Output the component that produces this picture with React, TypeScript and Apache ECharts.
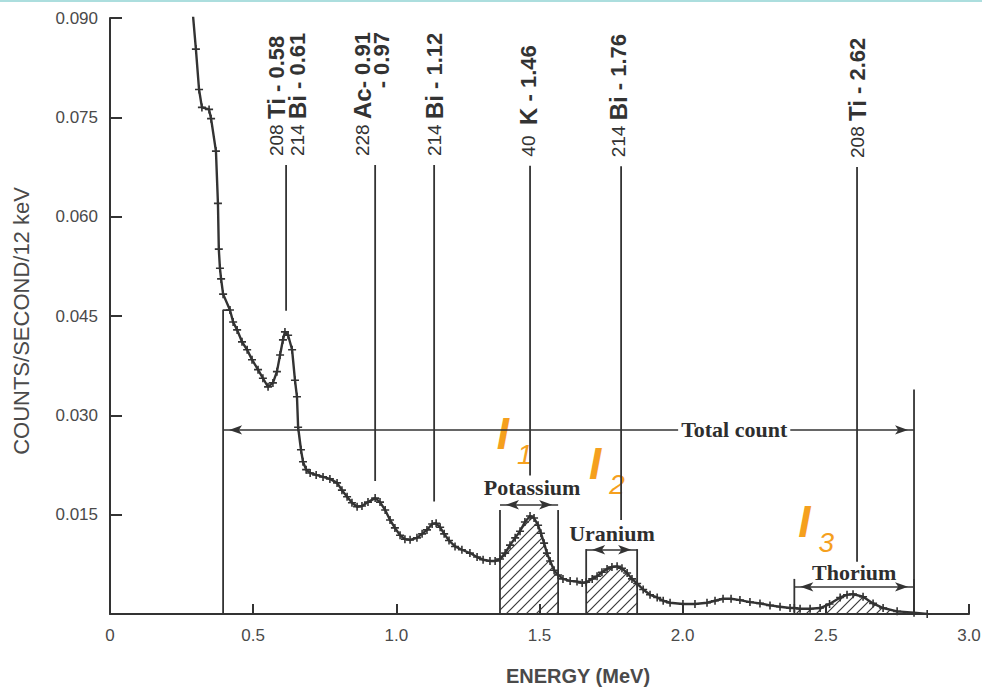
import React, { useEffect, useRef } from "react";
import * as echarts from "echarts";

// ---- Spectrum (energy in MeV, counts / second / 12 keV) ----
const energy = [
  0.290, 0.300, 0.311, 0.321, 0.346, 0.353, 0.370, 0.377, 0.380, 0.384,
  0.388, 0.395, 0.419, 0.430, 0.444, 0.461, 0.479, 0.496, 0.517, 0.534,
  0.552, 0.569, 0.583, 0.594, 0.604, 0.611, 0.622, 0.636, 0.646, 0.653,
  0.657, 0.667, 0.674, 0.685, 0.699, 0.720, 0.744, 0.768, 0.793, 0.810,
  0.828, 0.845, 0.863, 0.880, 0.901, 0.926, 0.943, 0.961, 0.978, 0.995,
  1.013, 1.030, 1.048, 1.072, 1.090, 1.107, 1.125, 1.139, 1.153, 1.167,
  1.184, 1.205, 1.229, 1.257, 1.282, 1.303, 1.327, 1.345, 1.362, 1.380,
  1.397, 1.415, 1.432, 1.449, 1.467, 1.481, 1.495, 1.505, 1.516, 1.526,
  1.537, 1.551, 1.565, 1.582, 1.607, 1.631, 1.649, 1.663, 1.684, 1.701,
  1.718, 1.736, 1.753, 1.771, 1.788, 1.806, 1.823, 1.841, 1.862, 1.886,
  1.911, 1.932, 1.956, 2.001, 2.043, 2.085, 2.113, 2.141, 2.169, 2.200,
  2.235, 2.270, 2.305, 2.340, 2.375, 2.390, 2.410, 2.445, 2.480, 2.513,
  2.550, 2.574, 2.595, 2.630, 2.665, 2.700, 2.749, 2.808, 2.854,
];
const counts = [
  0.0903, 0.0853, 0.0792, 0.0765, 0.0762, 0.0748, 0.0699, 0.0620, 0.0551, 0.0522,
  0.0506, 0.0483, 0.0459, 0.0441, 0.0429, 0.0411, 0.0399, 0.0384, 0.0369, 0.0356,
  0.0343, 0.0349, 0.0366, 0.0391, 0.0414, 0.0426, 0.0421, 0.0399, 0.0353, 0.0328,
  0.0282, 0.0248, 0.0230, 0.0218, 0.0213, 0.0210, 0.0207, 0.0204, 0.0198, 0.0187,
  0.0177, 0.0168, 0.0162, 0.0163, 0.0169, 0.0175, 0.0169, 0.0157, 0.0142, 0.0130,
  0.0119, 0.0113, 0.0112, 0.0115, 0.0121, 0.0127, 0.0136, 0.0137, 0.0131, 0.0121,
  0.0111, 0.0102, 0.0097, 0.0092, 0.0086, 0.0082, 0.0080, 0.0080, 0.0083, 0.0092,
  0.0104, 0.0115, 0.0125, 0.0139, 0.0148, 0.0145, 0.0134, 0.0122, 0.0107, 0.0092,
  0.0080, 0.0066, 0.0059, 0.0053, 0.0050, 0.0049, 0.0047, 0.0048, 0.0053, 0.0057,
  0.0063, 0.0068, 0.0071, 0.0072, 0.0069, 0.0062, 0.0053, 0.0046, 0.0037, 0.0029,
  0.0025, 0.0020, 0.0017, 0.0015, 0.0015, 0.0017, 0.0020, 0.0023, 0.0023, 0.0021,
  0.0018, 0.0016, 0.0013, 0.0011, 0.0009, 0.0009, 0.0008, 0.0008, 0.0009, 0.0015,
  0.0025, 0.0029, 0.0030, 0.0026, 0.0016, 0.0009, 0.0004, 0.0002, 0.0000,
];

// ---- Axes ----
const xTickLabels = ["0", "0.5", "1.0", "1.5", "2.0", "2.5", "3.0"];
const yTickLabels = ["", "0.015", "0.030", "0.045", "0.060", "0.075", "0.090"];

// ---- Peak identification lines ----
const peakEnergy = [0.615, 0.926, 1.132, 1.467, 1.785, 2.609];
const peakLineTop = [0.0678, 0.0678, 0.0678, 0.0677, 0.0676, 0.0675];
const peakLineBottom = [0.0458, 0.0201, 0.0170, 0.0209, 0.0142, 0.0079];
const peakLabels = [
  ["208 Ti - 0.58", "214 Bi - 0.61"],
  ["228 Ac- 0.91", "- 0.97"],
  ["214 Bi - 1.12"],
  ["40  K - 1.46"],
  ["214 Bi - 1.76"],
  ["208 Ti - 2.62"],
];

// ---- Energy windows ----
const windowNames = ["Potassium", "Uranium", "Thorium"];
const windowLo = [1.362, 1.663, 2.390];
const windowHi = [1.565, 1.841, 2.808];
const windowLineTop = [0.0157, 0.0098, 0.0053];
const windowArrowLevel = [0.0165, 0.0097, 0.0041];
const windowLabelEnergy = [1.474, 1.753, 2.599];
const windowLabelLevel = [0.0191, 0.0122, 0.0063];

// ---- Total count window ----
const totalLo = 0.395;
const totalHi = 2.808;
const totalLeftTop = 0.0459;
const totalLeftJoin = 0.419;
const totalRightTop = 0.0339;
const totalArrowLevel = 0.0278;
const totalLabelEnergy = 2.18;

// ---- Intensity markers I1, I2, I3 ----
const intensitySubs = ["1", "2", "3"];
const intensityEnergy = [1.372, 1.694, 2.425];
const intensityLevel = [0.0273, 0.0228, 0.0139];

const INK = "#333333";
const GRAY = "#4a4a4a";
const ORANGE = "#f5a01e";
const SANS = "'Liberation Sans', Arial, sans-serif";
const SERIF = "'Liberation Serif', 'Times New Roman', serif";
const PLUS =
  "path://M0.4,0H0.6V0.4H1V0.6H0.6V1H0.4V0.6H0V0.4H0.4Z";

function makeHatch() {
  const s = 10;
  const c = document.createElement("canvas");
  c.width = s;
  c.height = s;
  const ctx = c.getContext("2d")!;
  ctx.strokeStyle = "#3a3a3a";
  ctx.lineWidth = 1.2;
  ctx.beginPath();
  ctx.moveTo(-1, s + 1);
  ctx.lineTo(s + 1, -1);
  ctx.moveTo(-1, 1);
  ctx.lineTo(1, -1);
  ctx.moveTo(s - 1, s + 1);
  ctx.lineTo(s + 1, s - 1);
  ctx.stroke();
  return c;
}

function seg(points: number[][], width = 1.8) {
  return {
    type: "line",
    data: points,
    symbol: "none",
    silent: true,
    z: 3,
    lineStyle: { color: INK, width },
  };
}

export default function App() {
  const ref = useRef<HTMLDivElement>(null);

  useEffect(() => {
    const el = ref.current!;
    const chart = echarts.init(el, null, { renderer: "svg", width: 982, height: 689 });
    const curve = energy.map((e, i) => [e, counts[i]]);
    const hatch = makeHatch();

    const series: any[] = [];
    windowLo.forEach((lo, k) => {
      series.push({
        type: "line",
        data: curve.filter((p) => p[0] >= lo - 1e-9 && p[0] <= windowHi[k] + 1e-9),
        symbol: "none",
        silent: true,
        z: 1,
        lineStyle: { width: 0, opacity: 0 },
        areaStyle: { color: { image: hatch, repeat: "repeat" }, opacity: 1 },
      });
      series.push(seg([[lo, 0], [lo, windowLineTop[k]]]));
      series.push(seg([[windowHi[k], 0], [windowHi[k], windowLineTop[k]]]));
    });
    peakEnergy.forEach((e, i) => {
      series.push(seg([[e, peakLineBottom[i]], [e, peakLineTop[i]]]));
    });
    series.push(seg([[totalLeftJoin, totalLeftTop], [totalLo, totalLeftTop], [totalLo, 0]]));
    series.push(seg([[totalHi, 0], [totalHi, totalRightTop]]));

    const arrows = [
      [[totalLo, totalArrowLevel], [totalHi, totalArrowLevel]],
      ...windowLo.map((lo, k) => [[lo, windowArrowLevel[k]], [windowHi[k], windowArrowLevel[k]]]),
    ];

    series.push({
      type: "line",
      data: curve,
      symbol: PLUS,
      symbolSize: 8,
      showAllSymbol: true,
      z: 5,
      lineStyle: { color: INK, width: 2.4 },
      itemStyle: { color: INK },
      markLine: {
        silent: true,
        symbol: ["arrow", "arrow"],
        symbolSize: [7, 13],
        symbolOffset: [[0, 6], [0, 6]],
        label: { show: false },
        lineStyle: { color: INK, width: 1.5, type: "solid" },
        emphasis: { disabled: true },
        data: arrows.map((a) => [{ coord: a[0] }, { coord: a[1] }]),
      },
    });

    chart.setOption({
      animation: false,
      backgroundColor: "#ffffff",
      grid: { left: 110, right: 13, top: 18, bottom: 75, outerBoundsMode: "none" },
      xAxis: {
        type: "value",
        min: 0,
        max: 3,
        interval: 0.5,
        splitLine: { show: false },
        axisLine: { lineStyle: { color: INK, width: 2 } },
        axisTick: { inside: true, length: 10, lineStyle: { color: INK, width: 2 } },
        axisLabel: {
          margin: 13,
          color: GRAY,
          fontFamily: SANS,
          fontSize: 17,
          formatter: (v: number) => xTickLabels[Math.round(v / 0.5)] ?? "",
        },
      },
      yAxis: {
        type: "value",
        min: 0,
        max: 0.09,
        interval: 0.015,
        splitLine: { show: false },
        axisLine: { show: true, lineStyle: { color: INK, width: 2 } },
        axisTick: { show: true, inside: true, length: 12, lineStyle: { color: INK, width: 2 } },
        axisLabel: {
          margin: 12,
          color: GRAY,
          fontFamily: SANS,
          fontSize: 17,
          formatter: (v: number) => yTickLabels[Math.round(v / 0.015)] ?? "",
        },
      },
      series,
    });

    const px = (e: number, v: number) =>
      chart.convertToPixel({ gridIndex: 0 }, [e, v]) as number[];

    const graphics: any[] = [
      { type: "rect", shape: { x: 0, y: 0, width: 982, height: 2 }, style: { fill: "#acdede" }, silent: true },
      {
        type: "text",
        x: 21,
        y: 321,
        rotation: Math.PI / 2,
        style: {
          text: "COUNTS/SECOND/12 keV",
          fontFamily: SANS,
          fontSize: 22,
          fill: GRAY,
          align: "center",
          verticalAlign: "middle",
        },
      },
      {
        type: "text",
        x: 578,
        y: 676,
        style: {
          text: "ENERGY (MeV)",
          fontFamily: SANS,
          fontSize: 20,
          fontWeight: "bold",
          fill: GRAY,
          align: "center",
          verticalAlign: "middle",
        },
      },
    ];

    // Peak labels (rotated)
    const colShift = [0.5, -3, 0, -2, -3, 0];
    const lineH = [21, 19, 22, 22, 22, 22];
    peakLabels.forEach((lines, i) => {
      const top = px(peakEnergy[i], peakLineTop[i]);
      const L = lineH[i];
      const text = lines
        .map((ln) => {
          const m = ln.match(/^(\d+)(\s+)([A-Za-z]+)(.*)$/);
          if (m) return `{iso|${m[1]}}{iso|${m[2]}}{el|${m[3]}}{val|${m[4]}}`;
          return `{valR|${ln}}`;
        })
        .join("\n");
      graphics.push({
        type: "text",
        x: top[0] + colShift[i],
        y: top[1] - 9,
        rotation: Math.PI / 2,
        style: {
          text,
          align: "left",
          verticalAlign: "middle",
          fill: INK,
          rich: {
            iso: { fontFamily: SANS, fontSize: 19, fill: INK, lineHeight: L },
            el: { fontFamily: SANS, fontSize: 24, fontWeight: "bold", fill: INK, lineHeight: L },
            val: { fontFamily: SANS, fontSize: 22, fontWeight: "bold", fill: INK, lineHeight: L },
            valR: { fontFamily: SANS, fontSize: 22, fontWeight: "bold", fill: INK, lineHeight: L, align: "right" },
          },
        },
      });
    });

    // Window labels
    windowNames.forEach((name, k) => {
      const p = px(windowLabelEnergy[k], windowLabelLevel[k]);
      graphics.push({
        type: "text",
        x: p[0],
        y: p[1],
        style: {
          text: name,
          fontFamily: SERIF,
          fontSize: 22,
          fontWeight: "bold",
          fill: "#2e2e2e",
          align: "center",
          verticalAlign: "middle",
        },
      });
    });
    const tp = px(totalLabelEnergy, totalArrowLevel);
    graphics.push({
      type: "text",
      x: tp[0],
      y: tp[1],
      z: 10,
      style: {
        text: "Total count",
        fontFamily: SERIF,
        fontSize: 22,
        fontWeight: "bold",
        fill: "#2e2e2e",
        align: "center",
        verticalAlign: "middle",
        backgroundColor: "#ffffff",
        padding: [0, 3],
      },
    });

    // I1, I2, I3
    intensitySubs.forEach((sub, k) => {
      const p = px(intensityEnergy[k], intensityLevel[k]);
      graphics.push({
        type: "text",
        x: p[0],
        y: p[1],
        style: {
          text: "I",
          fontFamily: SANS,
          fontStyle: "italic",
          fontWeight: "bold",
          fontSize: 44,
          fill: ORANGE,
          align: "center",
          verticalAlign: "middle",
        },
      });
      graphics.push({
        type: "text",
        x: p[0] + 22,
        y: p[1] + 21,
        style: {
          text: sub,
          fontFamily: SANS,
          fontStyle: "italic",
          fontSize: 28,
          fill: ORANGE,
          align: "center",
          verticalAlign: "middle",
        },
      });
    });

    chart.setOption({ graphic: graphics });

    return () => chart.dispose();
  }, []);

  return (
    <div
      ref={ref}
      style={{ position: "fixed", left: 0, top: 0, width: 982, height: 689, background: "#fff" }}
    />
  );
}
